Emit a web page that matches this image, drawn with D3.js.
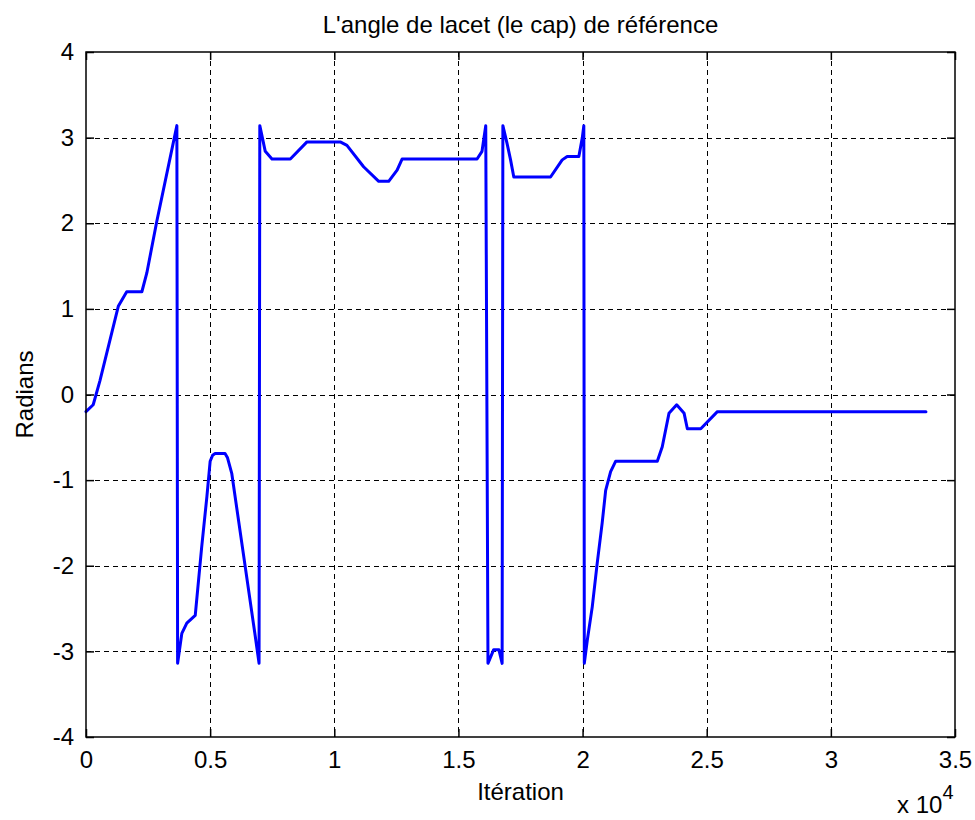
<!DOCTYPE html>
<html>
<head>
<meta charset="utf-8">
<script src="https://cdn.jsdelivr.net/npm/d3@7"></script>
<style>
  html, body { margin: 0; padding: 0; background: #fff; }
  svg { display: block; }
  text { font-family: "Liberation Sans", Arial, sans-serif; fill: #000; }
</style>
</head>
<body>
<svg id="chart" width="975" height="820"></svg>
<script>
// ---- Data ----
const iterations = [0, 290, 560, 1300, 1640, 2250, 2450, 2850, 3660, 3690, 3860, 4060, 4400, 4660, 4870, 5000, 5100, 5200, 5600, 5700, 5870, 6820, 6970,
  7000, 7220, 7490, 8230, 8900, 10240, 10510, 11180, 11790, 12190, 12530, 12730, 15750, 15950, 16100,
  16190, 16420, 16630, 16760,
  16790, 16960, 17100, 17230, 18710, 19180, 19380, 19850, 19990, 20050,
  20070, 20190, 20390, 20590, 20790, 20930, 21130, 21330, 23010, 23210, 23480, 23790, 24090, 24220, 24760, 25430, 33830];
const yawRad = [-0.20, -0.12, 0.16, 1.03, 1.20, 1.20, 1.42, 2.02, 3.14, -3.14, -2.79, -2.67, -2.58, -1.78, -1.19, -0.78, -0.71, -0.69, -0.69, -0.74, -0.92, -2.83, -3.14,
  3.14, 2.84, 2.75, 2.75, 2.95, 2.95, 2.91, 2.66, 2.49, 2.49, 2.62, 2.75, 2.75, 2.84, 3.14,
  -3.14, -2.98, -2.98, -3.14,
  3.14, 2.93, 2.74, 2.54, 2.54, 2.74, 2.78, 2.78, 3.00, 3.14,
  -3.14, -2.87, -2.48, -1.97, -1.50, -1.12, -0.90, -0.78, -0.78, -0.61, -0.22, -0.12, -0.22, -0.40, -0.40, -0.20, -0.20];
const xTicks = [0, 0.5, 1, 1.5, 2, 2.5, 3, 3.5];          // in units of 10^4
const xTickLabels = ["0", "0.5", "1", "1.5", "2", "2.5", "3", "3.5"];
const yTicks = [-4, -3, -2, -1, 0, 1, 2, 3, 4];
const yTickLabels = ["-4", "-3", "-2", "-1", "0", "1", "2", "3", "4"];
const titleText = "L'angle de lacet (le cap) de référence";
const xLabelText = "Itération";
const yLabelText = "Radians";

// ---- Layout ----
const L = 86, R = 955, T = 52, B = 737;
const svg = d3.select("#chart");
svg.append("rect").attr("width", 975).attr("height", 820).attr("fill", "#fff");

const x = d3.scaleLinear().domain([0, 35000]).range([L, R]);
const y = d3.scaleLinear().domain([-4, 4]).range([B, T]);

// Grid
const grid = svg.append("g").attr("stroke", "#000").attr("stroke-width", 1).attr("stroke-dasharray", "5,4");
grid.selectAll("line.vx").data(xTicks.slice(1, -1)).enter().append("line")
  .attr("x1", d => Math.round(x(d * 1e4)) + 0.5).attr("x2", d => Math.round(x(d * 1e4)) + 0.5)
  .attr("y1", T).attr("y2", B);
grid.selectAll("line.hy").data(yTicks.slice(1, -1)).enter().append("line")
  .attr("y1", d => Math.round(y(d)) + 0.5).attr("y2", d => Math.round(y(d)) + 0.5)
  .attr("x1", L).attr("x2", R);

// Axes (ticks inward, on all four sides)
const tickLen = 8;
const fmtX = (d, i) => xTickLabels[i];
const fmtY = (d, i) => yTickLabels[i];
const xb = svg.append("g").attr("transform", `translate(0,${B})`)
  .call(d3.axisBottom(x).tickValues(xTicks.map(v => v * 1e4)).tickFormat(fmtX).tickSizeInner(-tickLen).tickSizeOuter(0).tickPadding(14));
const xt = svg.append("g").attr("transform", `translate(0,${T})`)
  .call(d3.axisTop(x).tickValues(xTicks.map(v => v * 1e4)).tickFormat("").tickSizeInner(-tickLen).tickSizeOuter(0));
const yl = svg.append("g").attr("transform", `translate(${L},0)`)
  .call(d3.axisLeft(y).tickValues(yTicks).tickFormat(fmtY).tickSizeInner(-tickLen).tickSizeOuter(0).tickPadding(12));
const yr = svg.append("g").attr("transform", `translate(${R},0)`)
  .call(d3.axisRight(y).tickValues(yTicks).tickFormat("").tickSizeInner(-tickLen).tickSizeOuter(0));
[xb, xt, yl, yr].forEach(g => {
  g.select(".domain").remove();
  g.selectAll(".tick line").attr("stroke", "#000").attr("stroke-width", 1.5);
  g.selectAll(".tick text").attr("font-size", 24).attr("font-family", "'Liberation Sans', Arial, sans-serif").attr("fill", "#000");
});
xb.selectAll(".tick text").attr("dy", "0.71em");

// Data line
const pts = iterations.map((v, i) => [v, yawRad[i]]);
svg.append("path").datum(pts)
  .attr("fill", "none").attr("stroke", "#0000ff").attr("stroke-width", 3)
  .attr("stroke-linejoin", "round").attr("stroke-linecap", "round")
  .attr("d", d3.line().x(d => x(d[0])).y(d => y(d[1])));

// Box
svg.append("rect").attr("x", L).attr("y", T).attr("width", R - L).attr("height", B - T)
  .attr("fill", "none").attr("stroke", "#000").attr("stroke-width", 1.5);

// Title & labels
svg.append("text").attr("x", (L + R) / 2).attr("y", 33).attr("text-anchor", "middle")
  .attr("font-size", 24).text(titleText);
svg.append("text").attr("x", (L + R) / 2).attr("y", 800).attr("text-anchor", "middle")
  .attr("font-size", 24).text(xLabelText);
svg.append("text").attr("transform", `translate(33,${(T + B) / 2}) rotate(-90)`).attr("text-anchor", "middle")
  .attr("font-size", 24).text(yLabelText);
const ex = svg.append("text").attr("x", 897).attr("y", 813).attr("font-size", 24);
ex.append("tspan").text("x 10");
ex.append("tspan").attr("dy", -14).attr("font-size", 20).text("4");
</script>
</body>
</html>
